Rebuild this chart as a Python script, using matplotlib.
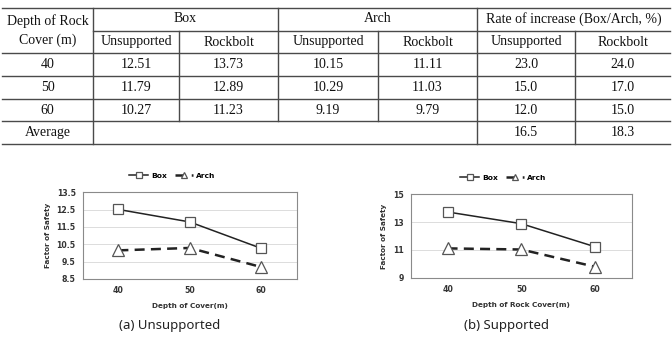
import matplotlib
matplotlib.use('Agg')
import matplotlib.pyplot as plt

# data from the table
depth = ['40', '50', '60']
box_unsup = [12.51, 11.79, 10.27]
box_bolt = [13.73, 12.89, 11.23]
arch_unsup = [10.15, 10.29, 9.19]
arch_bolt = [11.11, 11.03, 9.79]
rate_unsup = ['23.0', '15.0', '12.0']
rate_bolt = ['24.0', '17.0', '15.0']
avg_unsup = '16.5'
avg_bolt = '18.3'

fig = plt.figure(figsize=(6.72, 3.44), dpi=100)

# ---- table (drawn in pixel coords on an overlay axes) ----
tab = fig.add_axes([0, 0, 1, 1])
tab.set_xlim(0, 672)
tab.set_ylim(344, 0)
tab.axis('off')

lc = '#4a4a4a'
for y in [7.5, 53, 76, 99, 121, 144]:
    tab.plot([2, 670], [y, y], color=lc, lw=1.0)
tab.plot([93, 670], [30.7, 30.7], color=lc, lw=1.0)
vlines = [(93, 7.5, 144), (179, 30.7, 121), (278, 7.5, 121), (378, 30.7, 121),
          (477, 7.5, 144), (575, 30.7, 144)]
for x, y0, y1 in vlines:
    tab.plot([x, x], [y0, y1], color=lc, lw=1.0)

tf = dict(family='Liberation Serif', fontsize=10, ha='center', va='center', color='#111111')
tab.text(47.5, 21, 'Depth of Rock', **tf)
tab.text(47.5, 40.5, 'Cover (m)', **tf)
tab.text(185.5, 19, 'Box', **tf)
tab.text(377.5, 19, 'Arch', **tf)
tab.text(573.5, 19, 'Rate of increase (Box/Arch, %)', **tf)
col_x = [136, 228.5, 328, 427.5, 526, 622.5]
for cx, lab in zip(col_x, ['Unsupported', 'Rockbolt'] * 3):
    tab.text(cx, 42, lab, **tf)
row_c = [64.5, 87.5, 110]
for i, d in enumerate(depth):
    y = row_c[i]
    tab.text(47.5, y, d, **tf)
    vals = ['%.2f' % box_unsup[i], '%.2f' % box_bolt[i],
            '%.2f' % arch_unsup[i], '%.2f' % arch_bolt[i],
            rate_unsup[i], rate_bolt[i]]
    for cx, v in zip(col_x, vals):
        tab.text(cx, y, v, **tf)
tab.text(47.5, 132.5, 'Average', **tf)
tab.text(526, 132.5, avg_unsup, **tf)
tab.text(622.5, 132.5, avg_bolt, **tf)

# ---- charts ----
bf = dict(family='DejaVu Sans', fontweight='bold', fontsize=5.6, color='#333333')


def draw_chart(rect, box, arch, ylim, yticks, yfmt, xlabel):
    ax = fig.add_axes(rect)
    xs = range(len(depth))
    ax.plot(xs, box, color='#222222', lw=1.1, marker='s', ms=6.5,
            mfc='white', mec='#555555', mew=0.9, label='Box')
    ax.plot(xs, arch, color='#222222', lw=1.8, ls=(0, (4, 2.5)), marker='^', ms=8,
            mfc='white', mec='#555555', mew=0.9, label='Arch')
    ax.set_xlim(-0.5, 2.5)
    ax.set_ylim(*ylim)
    ax.set_yticks(yticks)
    ax.set_yticklabels([yfmt % t for t in yticks], **bf)
    ax.set_xticks(list(xs))
    ax.set_xticklabels(depth, **bf)
    ax.tick_params(length=0, pad=5)
    ax.grid(axis='y', color='#dcdcdc', lw=0.7)
    ax.set_axisbelow(True)
    for s in ax.spines.values():
        s.set_color('#8a8a8a')
        s.set_linewidth(0.8)
    ax.set_ylabel('Factor of Safety', labelpad=4, **dict(bf, fontsize=5.2))
    ax.set_xlabel(xlabel, labelpad=6, **dict(bf, fontsize=5.2))
    ax.legend(loc='lower center', bbox_to_anchor=(0.42, 1.08), ncol=2, frameon=False,
              prop={'family': 'DejaVu Sans', 'weight': 'bold', 'size': 5.4},
              markerscale=0.6, handlelength=2.5, columnspacing=1.0, handletextpad=0.4)
    return ax


draw_chart([0.1231, 0.189, 0.3185, 0.252], box_unsup, arch_unsup,
           (8.5, 13.5), [8.5, 9.5, 10.5, 11.5, 12.5, 13.5], '%.1f', 'Depth of Cover(m)')
draw_chart([0.6112, 0.1927, 0.3289, 0.2424], box_bolt, arch_bolt,
           (9, 15), [9, 11, 13, 15], '%d', 'Depth of Rock Cover(m)')

cf = dict(family='Noto Sans', fontsize=9.5, ha='center', va='center', color='#222222')
tab.text(170, 325, '(a) Unsupported', **cf)
tab.text(506, 325, '(b) Supported', **cf)

fig.savefig('out.png', dpi=100)
